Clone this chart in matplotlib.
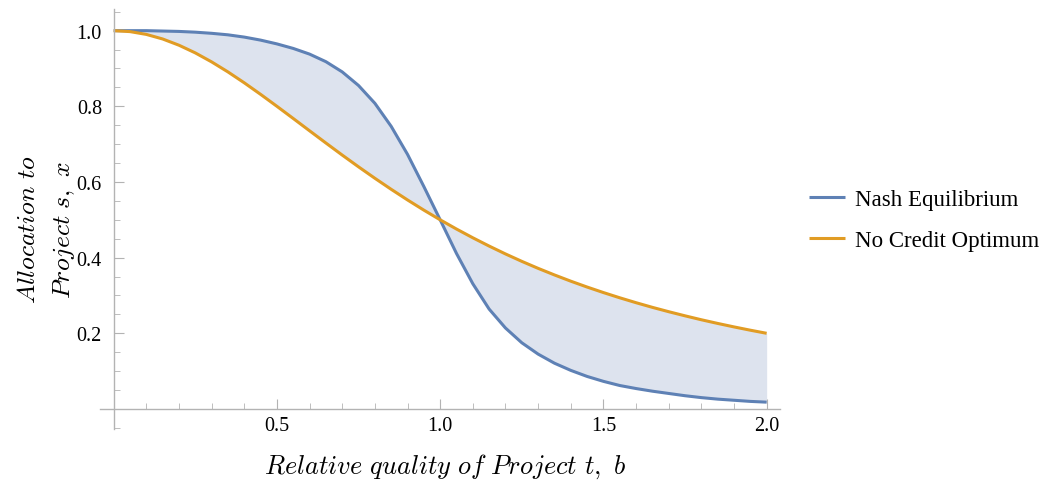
import matplotlib
matplotlib.use("Agg")
import matplotlib.pyplot as plt
import numpy as np

# data
b = [0.00, 0.05, 0.10, 0.15, 0.20, 0.25, 0.30, 0.35, 0.40, 0.45,
     0.50, 0.55, 0.60, 0.65, 0.70, 0.75, 0.80, 0.85, 0.90, 0.95,
     1.00, 1.05, 1.10, 1.15, 1.20, 1.25, 1.30, 1.35, 1.40, 1.45,
     1.50, 1.55, 1.60, 1.65, 1.70, 1.75, 1.80, 1.85, 1.90, 1.95, 2.00]

nash = [1.000, 1.000, 1.000, 0.999, 0.998, 0.996, 0.993, 0.989, 0.983, 0.975,
        0.965, 0.953, 0.938, 0.918, 0.891, 0.855, 0.808, 0.747, 0.673, 0.588,
        0.500, 0.411, 0.331, 0.264, 0.214, 0.175, 0.145, 0.121, 0.102, 0.086,
        0.073, 0.062, 0.054, 0.047, 0.041, 0.035, 0.030, 0.026, 0.023, 0.020, 0.018]

no_credit = [1.0000, 0.9975, 0.9901, 0.9780, 0.9615, 0.9412, 0.9174, 0.8909, 0.8621, 0.8316,
             0.8000, 0.7678, 0.7353, 0.7030, 0.6711, 0.6400, 0.6098, 0.5806, 0.5525, 0.5256,
             0.5000, 0.4756, 0.4525, 0.4306, 0.4098, 0.3902, 0.3717, 0.3543, 0.3378, 0.3223,
             0.3077, 0.2939, 0.2809, 0.2686, 0.2571, 0.2462, 0.2358, 0.2261, 0.2169, 0.2082, 0.2000]

x_ticks = [0.5, 1.0, 1.5, 2.0]
y_ticks = [0.2, 0.4, 0.6, 0.8, 1.0]

# colors
blauw = "#5e81b5"
oranje = "#e19c24"
vulling = "#dde3ee"
grijs = "#b3b3b3"

plt.rcParams["mathtext.fontset"] = "cm"

fig = plt.figure(figsize=(10.48, 4.81), dpi=100)
ax = fig.add_axes([0.0954, 0.106, 0.6486, 0.873])

ax.fill_between(b, nash, no_credit, color=vulling, lw=0)
ax.plot(b, nash, color=blauw, lw=2.2, label="Nash Equilibrium", solid_capstyle="butt")
ax.plot(b, no_credit, color=oranje, lw=2.2, label="No Credit Optimum", solid_capstyle="butt")

ax.set_xlim(-0.042, 2.04)
ax.set_ylim(-0.053, 1.057)

# assen door de oorsprong
for s in ["top", "right"]:
    ax.spines[s].set_visible(False)
ax.spines["left"].set_position(("data", 0))
ax.spines["bottom"].set_position(("data", 0))
for s in ["left", "bottom"]:
    ax.spines[s].set_color(grijs)
    ax.spines[s].set_linewidth(1.0)

ax.set_xticks(x_ticks)
ax.set_xticks(np.arange(0.1, 2.01, 0.1), minor=True)
ax.set_yticks(y_ticks)
ax.set_yticks([-0.05] + list(np.arange(0.05, 1.06, 0.05)), minor=True)
ax.set_xticklabels(["0.5", "1.0", "1.5", "2.0"])
ax.set_yticklabels(["0.2", "0.4", "0.6", "0.8", "1.0"])

ax.tick_params(axis="x", which="major", direction="in", length=7, color=grijs, pad=5)
ax.tick_params(axis="x", which="minor", direction="in", length=4, color=grijs)
ax.tick_params(axis="y", which="major", direction="in", length=7, color=grijs, pad=8.5)
ax.tick_params(axis="y", which="minor", direction="in", length=4, color=grijs)
for lab in ax.get_xticklabels() + ax.get_yticklabels():
    lab.set_fontfamily("Liberation Serif")
    lab.set_fontsize(14.5)

# labels
fig.text(0.425, 0.016, r"$\mathit{Relative\ quality\ of\ Project\ t,\ b}$",
         fontsize=19, ha="center", va="baseline")
fig.text(0.027, 0.522, r"$\mathit{Allocation\ to}$", fontsize=18.5,
         rotation=90, ha="center", va="center")
fig.text(0.061, 0.522, r"$\mathit{Project\ s,\ x}$", fontsize=18.5,
         rotation=90, ha="center", va="center")

fig.legend(loc="center left", bbox_to_anchor=(0.7525, 0.541), frameon=False,
           prop={"family": "Liberation Serif", "size": 16.5},
           handlelength=1.55, handletextpad=0.45, labelspacing=0.85)

plt.savefig("out.png", dpi=100)
